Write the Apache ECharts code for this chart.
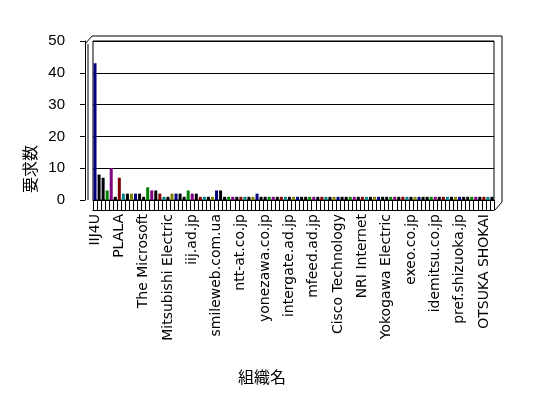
<!DOCTYPE html>
<html>
<head>
<meta charset="utf-8">
<script src="https://cdn.jsdelivr.net/npm/echarts@6/dist/echarts.min.js"></script>
<style>
html,body{margin:0;padding:0;background:#fff;}
#main{width:548px;height:398px;}
</style>
</head>
<body>
<div id="main"></div>
<script>
// 組織名 (99 organisations, only every 6th label is shown in the picture)
var orgNames=[
	'IIJ4U','','','','','',
	'PLALA','','','','','',
	'The Microsoft','','','','','',
	'Mitsubishi Electric','','','','','',
	'iij.ad.jp','','','','','',
	'smileweb.com.ua','','','','','',
	'ntt-at.co.jp','','','','','',
	'yonezawa.co.jp','','','','','',
	'intergate.ad.jp','','','','','',
	'mfeed.ad.jp','','','','','',
	'Cisco Technology','','','','','',
	'NRI Internet','','','','','',
	'Yokogawa Electric','','','','','',
	'exeo.co.jp','','','','','',
	'idemitsu.co.jp','','','','','',
	'pref.shizuoka.jp','','','','','',
	'OTSUKA SHOKAI','',''
];
// 要求数
var reqCount=[
	43,8,7,3,10,1,7,2,2,2,
	2,2,1,4,3,3,2,1,1,2,
	2,2,1,3,2,2,1,1,1,1,
	3,3,1,1,1,1,1,1,1,1,
	2,1,1,1,1,1,1,1,1,1,
	1,1,1,1,1,1,1,1,1,1,
	1,1,1,1,1,1,1,1,1,1,
	1,1,1,1,1,1,1,1,1,1,
	1,1,1,1,1,1,1,1,1,1,
	1,1,1,1,1,1,1,1,1
];
var yTicks=[0,10,20,30,40,50];
var barColors=['#000080','#000000','#000000','#008000','#800080','#000000','#800000','#008080','#000000','#808000'];

var chart=echarts.init(document.getElementById('main'));
var font='DejaVu Sans';
chart.setOption({
	animation:false,
	backgroundColor:'#fff',
	textStyle:{fontFamily:font,color:'#000'},
	grid:{
		left:93,
		right:54,
		top:41,
		bottom:198,
		show:true,
		borderColor:'#000',
		borderWidth:1
	},
	graphic:[{
		//外枠(奥行き)
		type:'polyline',
		shape:{points:[[85,44],[92,36],[502,36],[502,202],[495,210]]},
		style:{stroke:'#000',fill:null,lineWidth:1}
	},{
		type:'line',
		shape:{x1:88,y1:44,x2:88,y2:200},
		style:{stroke:'#000',lineWidth:1}
	},{
		type:'text',
		x:30,
		y:169,
		rotation:Math.PI/2,
		style:{
			text:'要求数',
			font:'16px "Noto Sans CJK JP"',
			fill:'#000',
			textAlign:'center',
			textVerticalAlign:'middle'
		}
	},{
		type:'text',
		x:262,
		y:377,
		style:{
			text:'組織名',
			font:'16px "Noto Sans CJK JP"',
			fill:'#000',
			textAlign:'center',
			textVerticalAlign:'middle'
		}
	}],
	xAxis:[{
		type:'category',
		data:orgNames,
		position:'bottom',
		axisLine:{lineStyle:{color:'#000',width:1}},
		axisTick:{show:true,interval:0,length:10,lineStyle:{color:'#000'}},
		axisLabel:{interval:5,rotate:90,fontSize:14,color:'#000',margin:14,fontFamily:font},
		splitLine:{show:false}
	},{
		type:'category',
		data:orgNames,
		position:'bottom',
		offset:10,
		axisLine:{lineStyle:{color:'#000',width:1}},
		axisTick:{show:false},
		axisLabel:{show:false},
		splitLine:{show:false}
	}],
	yAxis:{
		type:'value',
		min:yTicks[0],
		max:yTicks[yTicks.length-1],
		interval:10,
		offset:8,
		axisLine:{show:true,lineStyle:{color:'#000'}},
		axisTick:{show:true,length:5,lineStyle:{color:'#000'}},
		axisLabel:{fontSize:15,color:'#000',margin:20,fontFamily:'Liberation Sans'},
		splitLine:{show:true,lineStyle:{color:'#000',width:1}}
	},
	series:[{
		name:'要求数',
		type:'bar',
		xAxisIndex:0,
		barWidth:3,
		data:reqCount,
		itemStyle:{
			color:function(p){
				return barColors[p.dataIndex%barColors.length];
			}
		}
	}]
});
</script>
</body>
</html>
